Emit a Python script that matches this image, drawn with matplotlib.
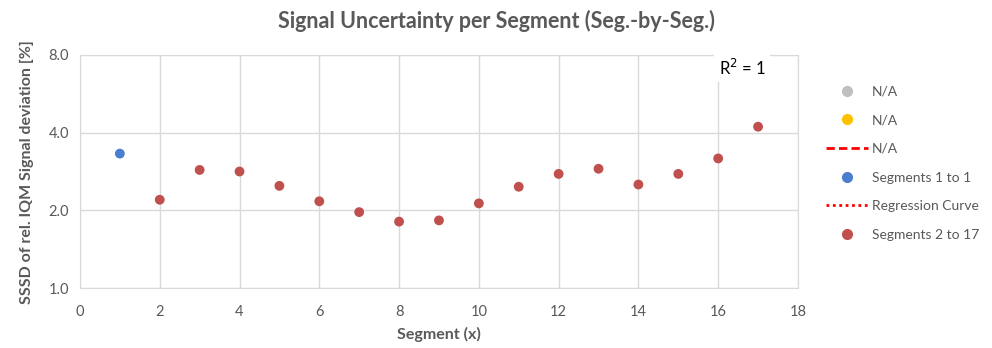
import matplotlib
matplotlib.use("Agg")
import matplotlib.pyplot as plt
from matplotlib.lines import Line2D
from matplotlib.ticker import FixedLocator, NullLocator, FuncFormatter

seg_first = [1]
val_first = [3.32]
seg_rest = [2, 3, 4, 5, 6, 7, 8, 9, 10, 11, 12, 13, 14, 15, 16, 17]
val_rest = [2.20, 2.87, 2.83, 2.49, 2.17, 1.97, 1.81, 1.83, 2.13, 2.47, 2.77, 2.90, 2.52, 2.77, 3.18, 4.22]
y_ticks = [1.0, 2.0, 4.0, 8.0]
x_ticks = [0, 2, 4, 6, 8, 10, 12, 14, 16, 18]

plt.rcParams['font.family'] = ['Lato', 'DejaVu Sans']
gray = '#595959'
grid = '#D9D9D9'

fig = plt.figure(figsize=(9.92, 3.48), dpi=100)
ax = fig.add_axes([0.0806, 0.172, 0.7238, 0.670])
ax.set_yscale('log', base=2)
ax.set_xlim(0, 18)
ax.set_ylim(1.0, 8.0)
ax.yaxis.set_major_locator(FixedLocator(y_ticks))
ax.yaxis.set_minor_locator(NullLocator())
ax.yaxis.set_major_formatter(FuncFormatter(lambda v, p: f"{v:.1f}"))
ax.set_xticks(x_ticks)
ax.grid(True, color=grid, linewidth=1)
ax.set_axisbelow(True)
for s in ax.spines.values():
    s.set_color(grid)
ax.tick_params(axis='x', length=0, labelsize=10.5, colors=gray, pad=12)
ax.tick_params(axis='y', length=0, labelsize=10.5, colors=gray, pad=8)

c_blue = '#4A7FD0'
c_red = '#C0504D'
ax.scatter(seg_first, val_first, s=50, color=c_blue, zorder=3, edgecolors='none')
ax.scatter(seg_rest, val_rest, s=50, color=c_red, zorder=3, edgecolors='none')

ax.text(16.6, 7.15, 'R$^2$ = 1', fontsize=12, color='#000000', ha='center', va='center',
        bbox=dict(facecolor='white', edgecolor='none', pad=3), zorder=4)

fig.text(0.5, 0.94, 'Signal Uncertainty per Segment (Seg.-by-Seg.)', ha='center', va='center',
         fontsize=15.5, fontweight='bold', color=gray)
ax.set_xlabel('Segment (x)', fontsize=11.5, fontweight='bold', color=gray, labelpad=6)
ax.set_ylabel('SSSD of rel. IQM Signal deviation [%]', fontsize=11.5, fontweight='bold', color=gray, labelpad=10)

handles = [
    Line2D([], [], linestyle='none', marker='o', markersize=7, color='#BFBFBF'),
    Line2D([], [], linestyle='none', marker='o', markersize=7, color='#FFC000'),
    Line2D([], [], linestyle=(0, (3, 1.5)), linewidth=2, color='#FF0000'),
    Line2D([], [], linestyle='none', marker='o', markersize=7, color=c_blue),
    Line2D([], [], linestyle=(0, (1, 1.3)), linewidth=2, color='#FF0000'),
    Line2D([], [], linestyle='none', marker='o', markersize=7, color=c_red),
]
labels = ['N/A', 'N/A', 'N/A', 'Segments 1 to 1', 'Regression Curve', 'Segments 2 to 17']
leg = fig.legend(handles, labels, loc='upper left', bbox_to_anchor=(0.82, 0.79), frameon=False,
                 fontsize=10, labelcolor=gray, handlelength=3.0, handletextpad=0.3, labelspacing=1.2)

fig.savefig('out.png', dpi=100, facecolor='white')
